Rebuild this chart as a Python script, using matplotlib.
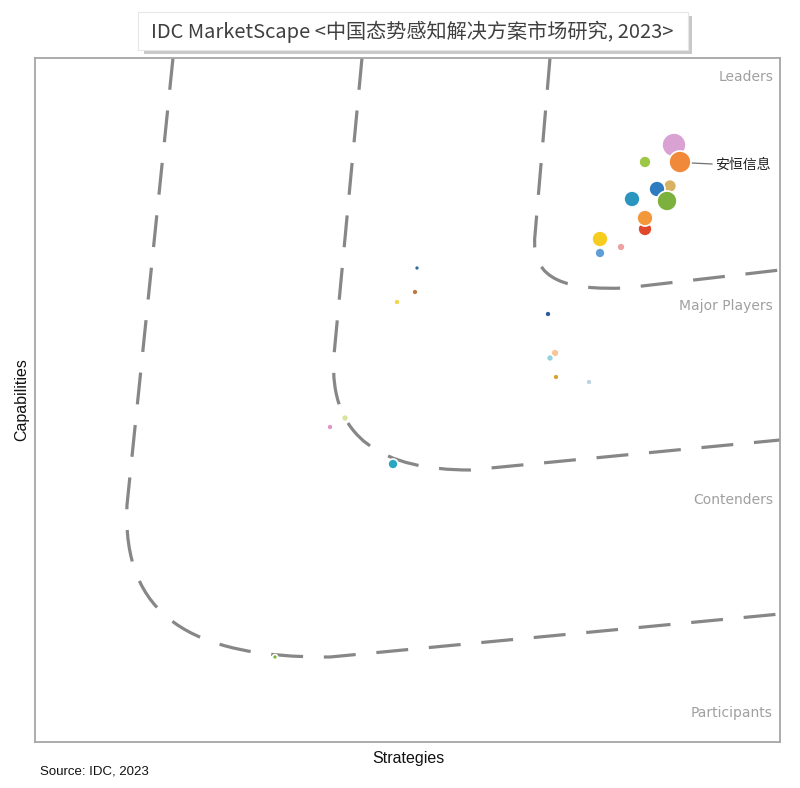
import matplotlib
matplotlib.use("Agg")
import matplotlib.pyplot as plt
from matplotlib.path import Path
from matplotlib.patches import PathPatch, Rectangle

plt.rcParams['font.family'] = ['Noto Sans CJK SC', 'DejaVu Sans']

# bubble data (chart coords: x = strategies, y = capabilities, screen-like units)
vendor_x = [674, 680, 645, 670, 657, 667, 632, 645, 645, 600, 600, 621,
            417, 415, 397, 548, 555, 550, 556, 589, 345, 330, 393, 275]
vendor_y = [145, 162, 162, 186, 189, 201, 199, 229, 218, 239, 253, 247,
            268, 292, 302, 314, 353, 358, 377, 382, 418, 427, 464, 657]
vendor_r = [12, 11, 6, 6.5, 8, 10, 8, 7, 8, 8, 5, 4,
            2.5, 3, 3, 3, 4, 3.5, 3, 3, 3.5, 3, 5, 2.5]
vendor_c = ['#d9a2d3', '#f08a3a', '#9cc645', '#d8b262', '#2e7cc0', '#7cb13d',
            '#2a95be', '#e0482c', '#f3983a', '#f6cc1e', '#5f9fd8', '#eba2a0',
            '#2c6da3', '#c07a40', '#f2d548', '#2a5aa0', '#f6c59a', '#94d2e2',
            '#d9a434', '#bcd3e2', '#dbe39a', '#e394c4', '#29a7c0', '#72b843']

zones = ['Leaders', 'Major Players', 'Contenders', 'Participants']
zone_y = [77, 306, 500, 713]

W, H = 800, 788
fig = plt.figure(figsize=(W / 100, H / 100), dpi=100)
ax = fig.add_axes([35 / W, 1 - 742 / H, 745 / W, 684 / H])
ax.set_xlim(35, 780)
ax.set_ylim(742, 58)
ax.set_xticks([])
ax.set_yticks([])
for s in ax.spines.values():
    s.set_color('#a6a6a6')
    s.set_linewidth(1.3)

# dashed boundary curves
M, L, C = Path.MOVETO, Path.LINETO, Path.CURVE4
curves = [
    ([(173, 58), (127, 505), (122, 615), (190, 658), (330, 657), (780, 614)],
     [M, L, C, C, C, L]),
    ([(362, 58), (334, 355), (328, 440), (385, 470), (470, 470), (780, 440)],
     [M, L, C, C, C, L]),
    ([(550, 58), (535, 235), (530, 282), (570, 290), (625, 288), (780, 270)],
     [M, L, C, C, C, L]),
]
for verts, codes in curves:
    ax.add_patch(PathPatch(Path(verts, codes), fill=False, edgecolor='#878787',
                           lw=2.3, linestyle=(0, (10, 6.5)), capstyle='butt',
                           zorder=1))

sizes = [(1.44 * r) ** 2 for r in vendor_r]
ax.scatter(vendor_x, vendor_y, s=sizes, c=vendor_c, edgecolors='white',
           linewidths=1.2, zorder=3)

# label for highlighted vendor
ax.plot([692, 712], [163, 164], color='#707070', lw=0.9, zorder=2)
ax.text(715, 165, '安恒信息', fontsize=10, color='#222222', va='center', ha='left')

for z, y in zip(zones, zone_y):
    ax.text(773, y, z, fontsize=10, color='#a0a0a0', ha='right', va='center',
            family=['DejaVu Sans'])

fig.text(22 / W, 1 - 400 / H, 'Capabilities', rotation=90, fontsize=11.5,
         ha='center', va='center', family=['Liberation Sans'], color='#111111')
fig.text(408 / W, 1 - 758 / H, 'Strategies', fontsize=11.5, ha='center',
         va='center', family=['Liberation Sans'], color='#111111')
fig.text(40 / W, 1 - 772 / H, 'Source: IDC, 2023', fontsize=9.5, ha='left',
         va='center', family=['Liberation Sans'], color='#111111')

# title box with shadow
fig.patches.append(Rectangle((144 / W, 1 - 54 / H), 548 / W, 38 / H,
                             transform=fig.transFigure, facecolor='#c8c8c8',
                             edgecolor='none', zorder=0))
fig.patches.append(Rectangle((138 / W, 1 - 50 / H), 550 / W, 38 / H,
                             transform=fig.transFigure, facecolor='white',
                             edgecolor='#e6e6e6', lw=0.8, zorder=1))
fig.text(412 / W, 1 - 32 / H, 'IDC MarketScape <中国态势感知解决方案市场研究, 2023>',
         fontsize=14.5, ha='center', va='center', color='#404040', zorder=2)

fig.savefig('out.png', dpi=100)
